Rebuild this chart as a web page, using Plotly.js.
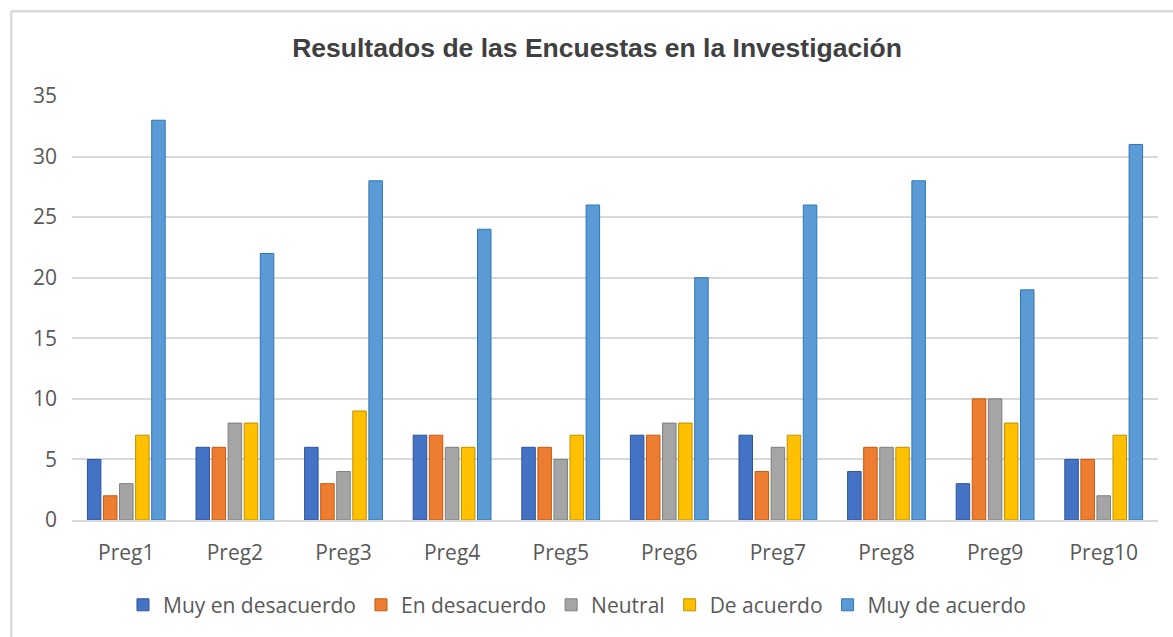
<!DOCTYPE html>
<html>
<head>
<meta charset="utf-8">
<script src="https://cdn.plot.ly/plotly-3.0.1.min.js"></script>
<style>html,body{margin:0;padding:0;background:#fff;}#chart{width:1173px;height:637px;}</style>
</head>
<body>
<div id="chart"></div>
<script>
const categories = ["Preg1","Preg2","Preg3","Preg4","Preg5","Preg6","Preg7","Preg8","Preg9","Preg10"];
const seriesNames = ["Muy en desacuerdo","En desacuerdo","Neutral","De acuerdo","Muy de acuerdo"];
const muyEnDesacuerdo = [5,6,6,7,6,7,7,4,3,5];
const enDesacuerdo    = [2,6,3,7,6,7,4,6,10,5];
const neutral         = [3,8,4,6,5,8,6,6,10,2];
const deAcuerdo       = [7,8,9,6,7,8,7,6,8,7];
const muyDeAcuerdo    = [33,22,28,24,26,20,26,28,19,31];
const yTicks = [0,5,10,15,20,25,30,35];

const fills = ["#4472C4","#ED7D31","#A5A5A5","#FFC000","#5B9BD5"];
const outlines = ["#2F5597","#C55A11","#7F7F7F","#BF9000","#2E75B6"];
const values = [muyEnDesacuerdo, enDesacuerdo, neutral, deAcuerdo, muyDeAcuerdo];

const traces = values.map((v,i)=>({
  type:"bar", x:categories, y:v, name:seriesNames[i],
  marker:{color:fills[i], line:{color:outlines[i], width:1}},
  hoverinfo:"x+y+name"
}));

const tickFont = {family:"Open Sans, sans-serif", size:21, color:"#595959"};

const layout = {
  width:1173, height:637,
  paper_bgcolor:"#ffffff", plot_bgcolor:"#ffffff",
  margin:{l:72, r:15, t:96, b:116},
  barmode:"group", bargap:0.26, bargroupgap:0.16,
  title:{text:"<b>Resultados de las Encuestas en la Investigación</b>",
    font:{family:"Liberation Sans, Arial, sans-serif", size:26.5, color:"#404040"},
    x:0.509, xanchor:"center", y:1-48/637, yanchor:"middle", yref:"container"},
  xaxis:{type:"category", showgrid:false, showline:true, linecolor:"#d9d9d9", linewidth:2,
    ticks:"", ticklabelstandoff:13, tickfont:tickFont},
  yaxis:{range:[0,35], tickvals:yTicks, ticktext:yTicks.map(String),
    showgrid:true, gridcolor:"#d9d9d9", gridwidth:2, zeroline:false, showline:false,
    ticks:"", ticklabelstandoff:14, tickfont:tickFont},
  legend:{orientation:"h", x:0.465, xanchor:"center", y:-0.198, yanchor:"middle",
    font:tickFont, itemclick:false, traceorder:"normal"},
  showlegend:true,
  shapes:[
    {type:"line", xref:"paper", yref:"paper", x0:-0.056, x1:1.03, y0:1.2, y1:1.2, line:{color:"#d9d9d9", width:2.5}},
    {type:"line", xref:"paper", yref:"paper", x0:-0.056, x1:-0.056, y0:1.2, y1:-0.3, line:{color:"#d9d9d9", width:2.5}}
  ]
};

Plotly.newPlot("chart", traces, layout, {displayModeBar:false});
</script>
</body>
</html>
